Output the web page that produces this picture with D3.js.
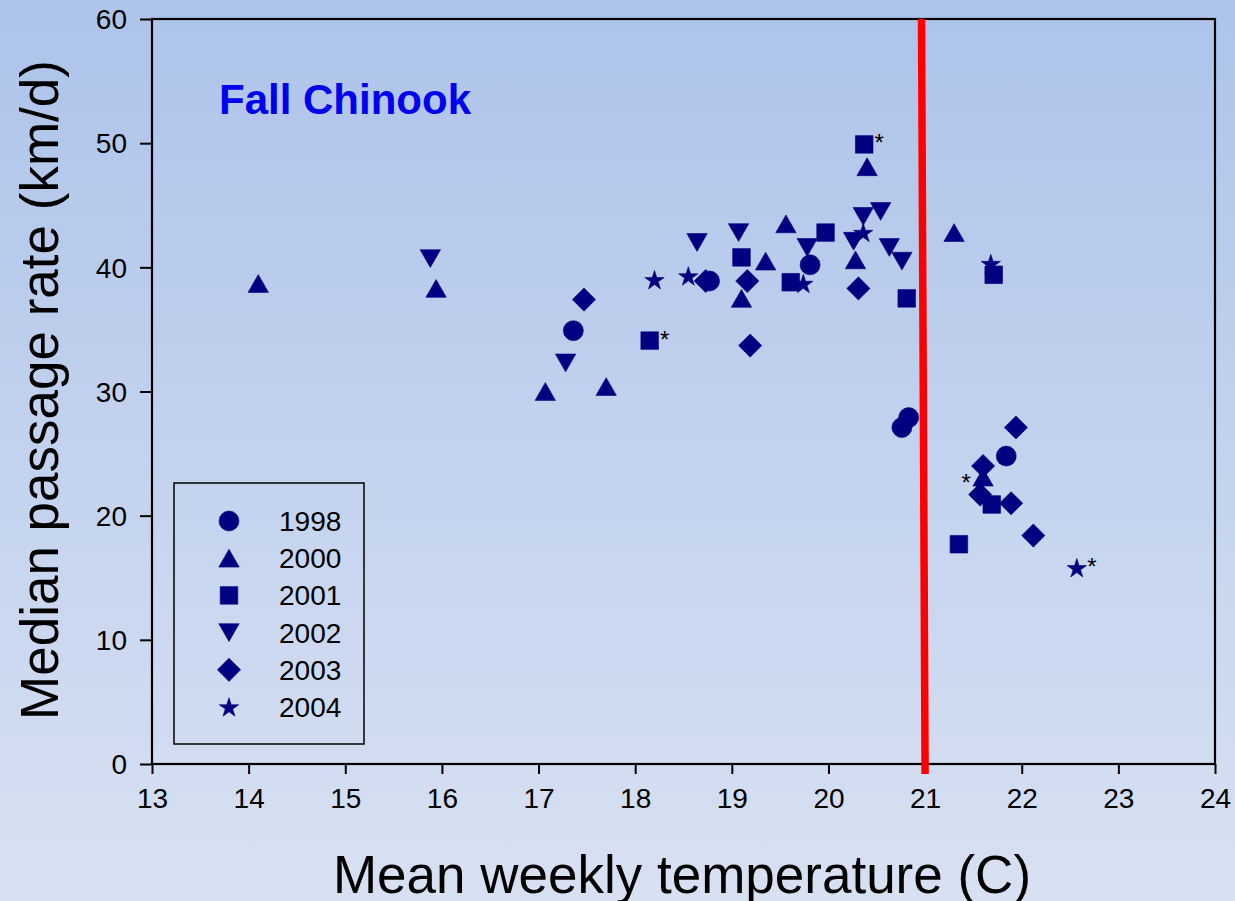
<!DOCTYPE html>
<html>
<head>
<meta charset="utf-8">
<script src="https://cdn.jsdelivr.net/npm/d3@7"></script>
<style>
  html, body { margin: 0; padding: 0; background: #c4d3ee; }
  svg { display: block; }
  text { font-family: "Liberation Sans", Arial, sans-serif; }
</style>
</head>
<body>
<div id="chart"></div>
<script>
// ---------- data ----------
const years = ["1998", "2000", "2001", "2002", "2003", "2004"];
const shapes = ["circle", "triangleUp", "square", "triangleDown", "diamond", "star"];

const temp1998 = [17.36, 18.77, 19.81, 20.76, 20.83, 21.84];
const rate1998 = [34.9, 38.9, 40.2, 27.1, 27.9, 24.8];

const temp2000 = [14.10, 15.94, 17.07, 17.70, 19.10, 19.35, 19.56, 20.28, 20.40, 21.30, 21.60];
const rate2000 = [38.7, 38.3, 30.0, 30.4, 37.5, 40.5, 43.5, 40.6, 48.1, 42.8, 23.1];

const temp2001 = [18.15, 19.10, 19.61, 19.97, 20.37, 20.81, 21.71, 21.69, 21.35];
const rate2001 = [34.1, 40.8, 38.8, 42.8, 49.9, 37.5, 39.4, 20.9, 17.7];

const temp2002 = [15.88, 17.28, 18.64, 19.07, 19.78, 20.26, 20.36, 20.54, 20.63, 20.76];
const rate2002 = [40.7, 32.3, 42.0, 42.8, 41.6, 42.1, 44.1, 44.5, 41.6, 40.5];

const temp2003 = [17.47, 18.73, 19.16, 19.19, 20.31, 21.94, 21.60, 21.57, 21.89, 22.12];
const rate2003 = [37.4, 38.9, 38.9, 33.7, 38.3, 27.1, 24.0, 21.7, 21.0, 18.4];

const temp2004 = [18.20, 18.55, 19.74, 20.36, 21.68, 22.57];
const rate2004 = [39.0, 39.3, 38.7, 42.8, 40.3, 15.8];

// points flagged with an asterisk (temperature, rate, side)
const starredTemp = [18.15, 20.37, 21.60, 22.57];
const starredRate = [34.1, 49.9, 23.1, 15.8];
const starredSide = ["right", "right", "left", "right"];

// vertical threshold line (slightly tilted as in the original)
const thresholdTemp = [20.963, 21.0];
const thresholdRate = [60, -0.8];

const xTicks = [13, 14, 15, 16, 17, 18, 19, 20, 21, 22, 23, 24];
const yTicks = [0, 10, 20, 30, 40, 50, 60];

const chartTitle = "Fall Chinook";
const xTitle = "Mean weekly temperature (C)";
const yTitle = "Median passage rate (km/d)";

const temps = [temp1998, temp2000, temp2001, temp2002, temp2003, temp2004];
const rates = [rate1998, rate2000, rate2001, rate2002, rate2003, rate2004];
const series = years.map((yr, i) => ({
  year: yr, shape: shapes[i],
  points: temps[i].map((t, j) => ({ t, r: rates[i][j] }))
}));

// ---------- layout ----------
const W = 1235, H = 901;
const plotLeft = 152, plotRight = 1215, plotTop = 19, plotBottom = 764;
const markColor = "#000080";

const svg = d3.select("#chart").append("svg").attr("width", W).attr("height", H);

const defs = svg.append("defs");
const grad = defs.append("linearGradient").attr("id", "bg").attr("x1", 0).attr("y1", 0).attr("x2", 0).attr("y2", 1);
grad.append("stop").attr("offset", "0%").attr("stop-color", "#adc3ea");
grad.append("stop").attr("offset", "100%").attr("stop-color", "#d8e1f2");
svg.append("rect").attr("width", W).attr("height", H).attr("fill", "url(#bg)");

const x = d3.scaleLinear().domain([13, 24]).range([plotLeft, plotRight]);
const y = d3.scaleLinear().domain([0, 60]).range([plotBottom, plotTop]);

// symbol path generator (bbox-centred)
function shapePath(shape) {
  switch (shape) {
    case "circle": { const r = 10; return `M${-r},0A${r},${r} 0 1,0 ${r},0A${r},${r} 0 1,0 ${-r},0Z`; }
    case "square": { const s = 8.8; return `M${-s},${-s}H${s}V${s}H${-s}Z`; }
    case "triangleUp": { const w = 10.2, h = 8.9; return `M0,${-h}L${w},${h}L${-w},${h}Z`; }
    case "triangleDown": { const w = 10.2, h = 8.9; return `M0,${h}L${w},${-h}L${-w},${-h}Z`; }
    case "diamond": { const d = 11.6; return `M0,${-d}L${d},0L0,${d}L${-d},0Z`; }
    case "star": {
      const R = 10.2, r = R * 0.382;
      const pts = [];
      for (let k = 0; k < 10; k++) {
        const a = -Math.PI / 2 + k * Math.PI / 5;
        const rr = k % 2 === 0 ? R : r;
        pts.push([rr * Math.cos(a), rr * Math.sin(a) + 0.9]);
      }
      return "M" + pts.map(p => p[0].toFixed(2) + "," + p[1].toFixed(2)).join("L") + "Z";
    }
  }
}

// ---------- axes ----------
const xAxis = d3.axisBottom(x).tickValues(xTicks).tickSize(10).tickPadding(14).tickFormat(d3.format("d"));
const yAxis = d3.axisLeft(y).tickValues(yTicks).tickSize(12).tickPadding(13).tickFormat(d3.format("d"));

const gx = svg.append("g").attr("transform", `translate(0,${plotBottom})`).call(xAxis);
const gy = svg.append("g").attr("transform", `translate(${plotLeft},0)`).call(yAxis);
[gx, gy].forEach(g => {
  g.select(".domain").remove();
  g.selectAll(".tick line").attr("stroke", "#000").attr("stroke-width", 2);
  g.selectAll(".tick text").attr("fill", "#000").style("font-size", "28px")
    .style("font-family", '"Liberation Sans", Arial, sans-serif');
});
gy.selectAll(".tick text").attr("dy", "0.35em");

// frame
svg.append("rect").attr("x", plotLeft).attr("y", plotTop).attr("width", plotRight - plotLeft).attr("height", plotBottom - plotTop)
  .attr("fill", "none").attr("stroke", "#000").attr("stroke-width", 2.2);

// ---------- marks ----------
series.forEach(s => {
  svg.append("g").selectAll("path").data(s.points).join("path")
    .attr("d", shapePath(s.shape))
    .attr("transform", d => `translate(${x(d.t)},${y(d.r)})`)
    .attr("fill", markColor).attr("stroke", markColor).attr("stroke-width", 0.6);
});

// asterisks
svg.append("g").selectAll("text").data(starredTemp.map((t, i) => ({ t, r: starredRate[i], side: starredSide[i] })))
  .join("text")
  .attr("x", d => x(d.t) + (d.side === "right" ? 15 : -17))
  .attr("y", d => y(d.r) + (d.side === "right" ? 7 : 14))
  .attr("text-anchor", "middle")
  .style("font-size", "24px").attr("fill", "#000").text("*");

// threshold line
svg.append("line")
  .attr("x1", x(thresholdTemp[0])).attr("y1", y(thresholdRate[0]))
  .attr("x2", x(thresholdTemp[1])).attr("y2", y(thresholdRate[1]))
  .attr("stroke", "#ff0000").attr("stroke-width", 7.5);

// title inside plot
svg.append("text").attr("x", 219).attr("y", 114).attr("fill", "#0000f0")
  .style("font-size", "42px").style("font-weight", "bold").text(chartTitle);

// axis titles
svg.append("text").attr("x", 682).attr("y", 893).attr("text-anchor", "middle")
  .style("font-size", "53px").attr("fill", "#000").text(xTitle);
svg.append("text").attr("transform", "translate(58,390) rotate(-90)").attr("text-anchor", "middle")
  .style("font-size", "53px").attr("fill", "#000").text(yTitle);

// ---------- legend ----------
const lg = svg.append("g");
lg.append("rect").attr("x", 174).attr("y", 483).attr("width", 190).attr("height", 261)
  .attr("fill", "none").attr("stroke", "#000").attr("stroke-width", 1.5);
series.forEach((s, i) => {
  const cy = 521 + i * 37.2;
  lg.append("path").attr("d", shapePath(s.shape)).attr("transform", `translate(229,${cy})`)
    .attr("fill", markColor).attr("stroke", markColor).attr("stroke-width", 0.6);
  lg.append("text").attr("x", 279).attr("y", cy).attr("dy", "0.36em")
    .style("font-size", "28px").attr("fill", "#000").text(s.year);
});
</script>
</body>
</html>
